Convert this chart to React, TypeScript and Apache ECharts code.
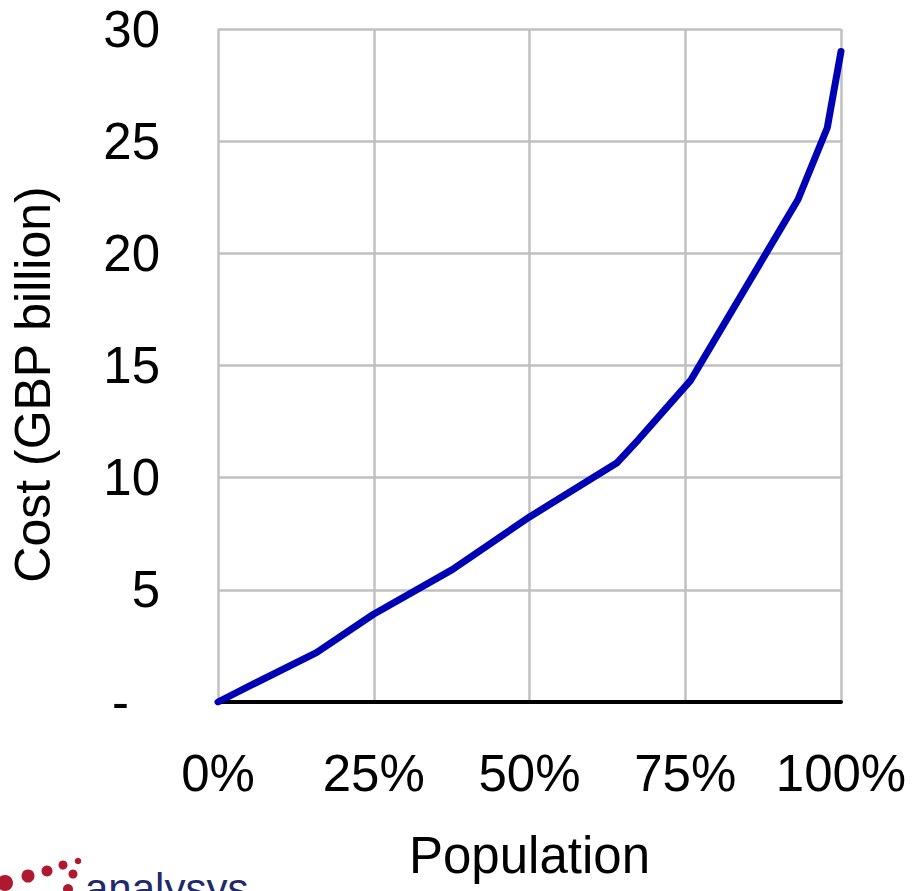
import React, { useEffect, useRef } from "react";
import * as echarts from "echarts";

const population = [0, 0.054, 0.158, 0.249, 0.376, 0.5, 0.64, 0.675, 0.759, 0.931, 0.978, 1.0];
const cost = [0, 0.76, 2.2, 3.9, 5.9, 8.25, 10.65, 11.7, 14.35, 22.4, 25.6, 29.0];
const yTicks = [0, 5, 10, 15, 20, 25, 30];
const xTickLabels = ["0%", "25%", "50%", "75%", "100%"];

const FONT = "'Liberation Sans', Arial, sans-serif";

export default function App() {
  const ref = useRef<HTMLDivElement>(null);
  useEffect(() => {
    if (!ref.current) return;
    const chart = echarts.init(ref.current, null, { renderer: "svg" });
    const red = "#b01830";
    chart.setOption({
      animation: false,
      backgroundColor: "#ffffff",
      grid: { left: 214, right: 71, top: 29, bottom: 189, containLabel: false },
      xAxis: {
        type: "value",
        min: 0,
        max: 1,
        interval: 0.25,
        name: "Population",
        nameLocation: "middle",
        nameGap: 128,
        nameTextStyle: { fontFamily: FONT, fontSize: 51, color: "#000" },
        axisLine: { show: true, onZero: true, lineStyle: { color: "#000", width: 4 } },
        axisTick: { show: false },
        axisLabel: {
          fontFamily: FONT,
          fontSize: 51,
          color: "#000",
          margin: 46,
          formatter: (v: number) => xTickLabels[Math.round(v / 0.25)] ?? "",
        },
        splitLine: { show: true, lineStyle: { color: "#c0c0c0", width: 2.5 } },
      },
      yAxis: {
        type: "value",
        min: yTicks[0],
        max: yTicks[yTicks.length - 1],
        interval: 5,
        name: "Cost (GBP billion)",
        nameLocation: "middle",
        nameGap: 160,
        nameTextStyle: { fontFamily: FONT, fontSize: 50, color: "#000", padding: [0, 38, 0, 0] },
        axisLine: { show: false },
        axisTick: { show: false },
        axisLabel: {
          fontFamily: FONT,
          fontSize: 51,
          color: "#000",
          margin: 58,
          formatter: (v: number) => (v === 0 ? "{d|-}" : String(v)),
          rich: { d: { fontFamily: FONT, fontSize: 51, color: "#000", padding: [0, 31, 0, 0] } },
        },
        splitLine: { show: true, lineStyle: { color: "#c0c0c0", width: 2.5 } },
      },
      series: [
        {
          type: "line",
          data: population.map((p, i) => [p, cost[i]]),
          showSymbol: false,
          symbol: "none",
          lineStyle: { color: "#0000b4", width: 7, cap: "round", join: "round" },
          z: 5,
        },
      ],
      graphic: [
        { type: "circle", shape: { cx: 5, cy: 883, r: 8 }, style: { fill: red } },
        { type: "circle", shape: { cx: 28, cy: 876, r: 6.5 }, style: { fill: red } },
        { type: "circle", shape: { cx: 47, cy: 871, r: 5.5 }, style: { fill: red } },
        { type: "circle", shape: { cx: 63, cy: 865, r: 4.5 }, style: { fill: red } },
        { type: "circle", shape: { cx: 78, cy: 861, r: 3.3 }, style: { fill: red } },
        { type: "circle", shape: { cx: 73, cy: 874, r: 4.5 }, style: { fill: red } },
        { type: "circle", shape: { cx: 68, cy: 889, r: 5 }, style: { fill: red } },
        {
          type: "text",
          left: 85,
          top: 867,
          style: { text: "analysys", fontFamily: FONT, fontSize: 42, fill: "#1f2a6b" },
        },
      ],
    });
    return () => chart.dispose();
  }, []);
  return (
    <div
      ref={ref}
      style={{ position: "fixed", left: 0, top: 0, width: 912, height: 891, background: "#fff" }}
    />
  );
}
